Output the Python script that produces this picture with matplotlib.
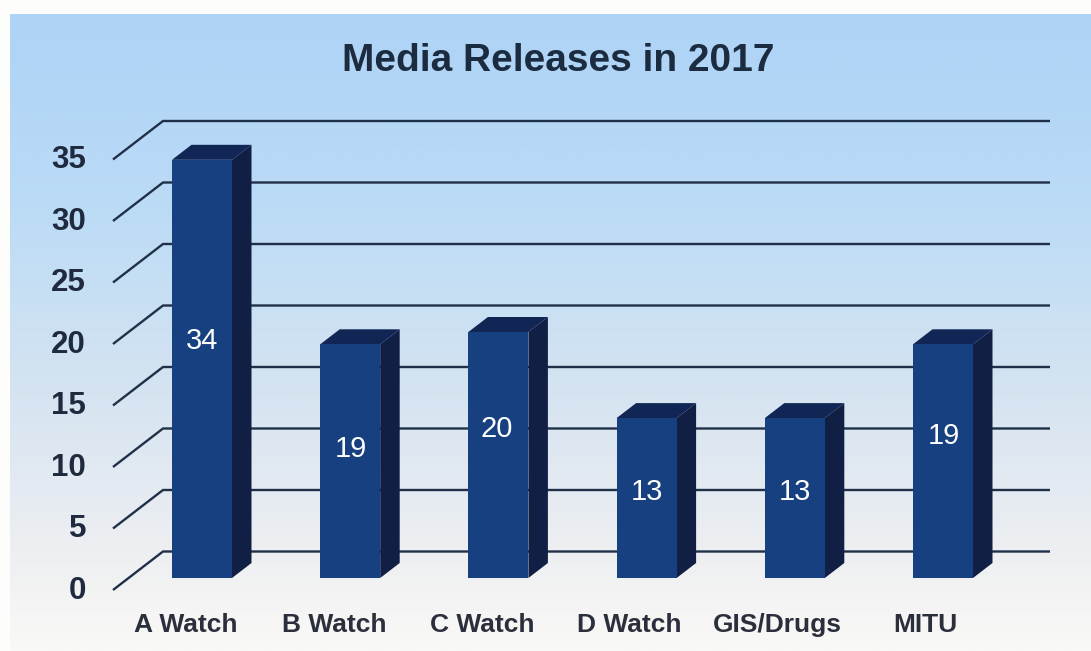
import numpy as np
import matplotlib
matplotlib.use("Agg")
import matplotlib.pyplot as plt
from matplotlib.colors import LinearSegmentedColormap
from matplotlib.patches import Polygon

categories = ["A Watch", "B Watch", "C Watch", "D Watch", "GIS/Drugs", "MITU"]
values = [34, 19, 20, 13, 13, 19]
gridvals = [0, 5, 10, 15, 20, 25, 30, 35]
title = "Media Releases in 2017"

W, H = 1091, 651
plt.rcParams['font.family'] = ['Liberation Sans', 'DejaVu Sans']
fig = plt.figure(figsize=(W / 100, H / 100), dpi=100, facecolor='#fdfdfb')

# Pixel <-> data scale
PX_X = 148.2
PX_Y = 12.3
X0, Y0 = 202, 578
ax = fig.add_axes([0, 0, 1, 1])


def fx(px):
    return (px - X0) / PX_X


def fy(px):
    return (Y0 - px) / PX_Y


# Background gradient
cmap = LinearSegmentedColormap.from_list(
    'bg', [(0, '#aed3f6'), (0.3, '#bbdbf6'), (0.6, '#d6e4f1'), (0.85, '#eeeff1'), (1, '#f9f9f7')])
grad = np.linspace(0, 1, 256).reshape(-1, 1)
ax.imshow(grad, cmap=cmap, aspect='auto', zorder=0,
          extent=[fx(10), fx(W), fy(H), fy(14)], origin='upper')
ax.set_xlim(-X0 / PX_X, (W - X0) / PX_X)
ax.set_ylim(-(H - Y0) / PX_Y, Y0 / PX_Y)
ax.axis('off')

# Gridlines with slanted wall segment
back_off = (578 - 551.5) / PX_Y
front_off = (578 - 590) / PX_Y
for v in gridvals:
    ax.plot([fx(113), fx(163), fx(1050)],
            [v + front_off, v + back_off, v + back_off],
            color='#1f3048', lw=1.7, zorder=1, solid_capstyle='butt', solid_joinstyle='miter')
    ax.text(fx(86), v + front_off - 0.05, str(v), ha='right', va='center',
            fontsize=22.5, fontweight='bold', color='#1f2a3f', zorder=5)

# Bars
bar_w = 60 / PX_X
dx = 19.5 / PX_X
dy = 15 / PX_Y
value_label_y = [340.5, 448.5, 428.5, 491.5, 491.5, 435.5]
value_label_dx = [0, 1, -2, 0, 0, 1]
for i, (name, v) in enumerate(zip(categories, values)):
    l, r = i - bar_w / 2, i + bar_w / 2
    ax.add_patch(Polygon([(r, 0), (r + dx, dy), (r + dx, v + dy), (r, v)],
                         closed=True, fc='#121f45', ec='none', zorder=2))
    ax.add_patch(Polygon([(l, v), (l + dx, v + dy), (r + dx, v + dy), (r, v)],
                         closed=True, fc='#122656', ec='none', zorder=2))
    ax.bar(i, v, width=bar_w, color='#16407f', zorder=3, linewidth=0)
    ax.text(i + value_label_dx[i] / PX_X, fy(value_label_y[i]), str(v), ha='center', va='center',
            fontsize=21, color='white', zorder=6)
    ax.text(fx(186 + 147.9 * i), fy(632), name, ha='center', va='baseline', fontsize=19,
            fontweight='bold', color='#2b2f3c', zorder=5)

ax.text(fx(558), fy(71), title, ha='center', va='baseline', fontsize=28,
        fontweight='bold', color='#1b2b40', zorder=5)

fig.savefig('out.png', dpi=100, facecolor=fig.get_facecolor())
